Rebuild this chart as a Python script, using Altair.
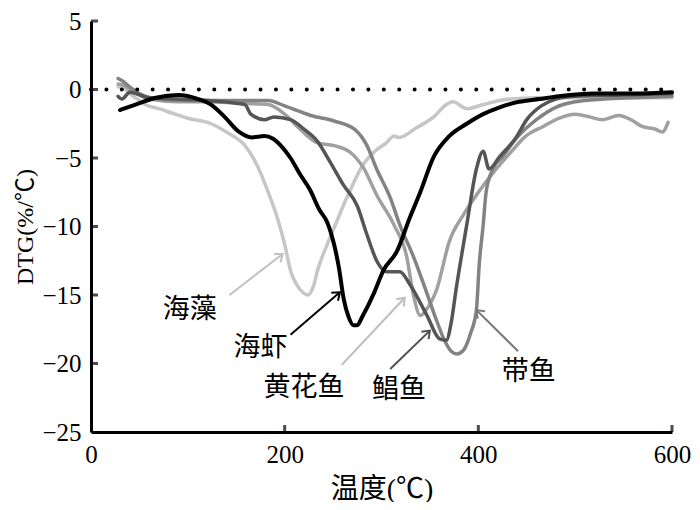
import math
import altair as alt
import pandas as pd

# ---------------- data ----------------
series_names = ["海藻", "黄花鱼", "带鱼", "鲳鱼", "海虾"]
series_colors = ["#c6c6c6", "#a0a0a0", "#838383", "#555555", "#000000"]
series_widths = [3.5, 3.5, 3.5, 3.5, 4.0]

haizao_t = [28, 34, 40, 48, 56, 70, 87, 100, 124, 142, 159, 172, 183, 193, 200, 206, 216, 224,
            230, 234, 244, 254, 261, 270, 280, 295, 305, 313, 318, 336, 354, 367, 374, 388, 405,
            422, 460, 500, 550, 600]
haizao_v = [0.2, 0.1, -0.3, -0.7, -1.1, -1.4, -1.8, -2.1, -2.5, -3.2, -4.1, -5.6, -7.5, -9.5,
            -11.3, -13.2, -14.6, -15.0, -14.3, -13.2, -11.3, -9.6, -8.4, -7.0, -5.6, -4.4, -3.9,
            -3.4, -3.5, -2.8, -2.0, -1.1, -0.9, -1.4, -1.1, -0.8, -0.6, -0.6, -0.6, -0.6]

huanghua_t = [28, 34, 40, 50, 60, 90, 120, 150, 183, 200, 216, 234, 251, 268, 282, 295, 313,
              326, 333, 340, 347, 357, 370, 385, 398, 415, 432, 449, 467, 483, 500, 515, 528,
              545, 560, 569, 583, 590, 596]
huanghua_v = [0.4, 0.3, 0.0, -0.4, -0.7, -0.9, -0.9, -1.0, -1.1, -1.8, -2.9, -3.9, -4.1, -4.6,
              -5.8, -7.7, -9.9, -12.2, -15.0, -16.5, -16.0, -14.6, -11.1, -9.1, -7.7, -6.1,
              -4.7, -3.4, -2.7, -2.1, -1.8, -2.0, -2.2, -1.9, -2.3, -2.7, -2.9, -3.1, -2.4]

daiyu_t = [28, 33, 38, 50, 70, 100, 130, 160, 183, 200, 227, 251, 272, 285, 295, 309, 319, 333,
           345, 355, 365, 372, 378, 385, 392, 398, 401, 405, 408, 415, 425, 440, 460, 480, 500,
           530, 560, 600]
daiyu_v = [0.8, 0.6, 0.3, -0.3, -0.7, -0.8, -0.8, -0.8, -0.8, -1.2, -1.9, -2.3, -2.9, -4.1,
           -5.8, -7.9, -9.9, -12.2, -14.5, -16.5, -18.3, -19.1, -19.3, -19.0, -17.8, -16.1,
           -12.7, -9.9, -7.5, -5.8, -4.9, -3.5, -2.2, -1.3, -0.9, -0.7, -0.6, -0.5]

changyu_t = [28, 32, 40, 60, 90, 120, 150, 159, 165, 179, 189, 206, 220, 234, 247, 261, 275,
             285, 295, 305, 319, 329, 347, 360, 367, 372, 377, 388, 398, 405, 411, 422, 439,
             450, 465, 480, 500, 550, 600]
changyu_v = [-0.5, -0.7, -0.2, -0.6, -0.7, -0.8, -1.0, -1.1, -1.8, -2.2, -2.0, -2.2, -2.9,
             -3.8, -5.3, -7.0, -8.5, -10.6, -12.5, -13.3, -13.3, -14.2, -16.5, -18.2, -18.3,
             -17.0, -14.6, -9.9, -5.8, -4.5, -5.8, -4.9, -3.5, -2.2, -1.2, -0.7, -0.5, -0.4, -0.3]

haixia_t = [30, 46, 67, 90, 111, 124, 138, 153, 166, 179, 188, 196, 206, 216, 226, 236, 244,
            251, 256, 261, 266, 271, 275, 280, 292, 302, 316, 329, 340, 354, 370, 388, 405,
            422, 442, 463, 483, 520, 560, 600]
haixia_v = [-1.5, -1.1, -0.6, -0.4, -0.7, -1.1, -2.0, -3.1, -3.5, -3.4, -3.6, -4.1, -5.0, -6.2,
            -7.3, -8.8, -9.7, -11.3, -13.0, -15.3, -16.6, -17.2, -17.2, -16.6, -14.9, -13.2,
            -11.8, -9.4, -7.5, -4.9, -3.4, -2.5, -1.8, -1.3, -0.9, -0.7, -0.5, -0.3, -0.3, -0.2]

series_t = [haizao_t, huanghua_t, daiyu_t, changyu_t, haixia_t]
series_v = [haizao_v, huanghua_v, daiyu_v, changyu_v, haixia_v]

# labels and arrows
label_names = ["海藻", "海虾", "黄花鱼", "鲳鱼", "带鱼"]
label_t = [102, 175, 220, 318, 452]
label_v = [-16.1, -18.9, -21.8, -21.9, -20.6]
arrow_tail_t = [143, 206, 259, 309, 441]
arrow_tail_v = [-15.0, -17.9, -20.1, -20.4, -19.1]
arrow_tip_t = [198, 257, 324, 350, 398]
arrow_tip_v = [-12.0, -14.8, -15.2, -17.6, -16.1]
arrow_colors = ["#c0c0c0", "#000000", "#bdbdbd", "#505050", "#7a7a7a"]

x_ticks = [200, 400, 600]
y_ticks = [5, 0, -5, -10, -15, -20]

# ---------------- layout ----------------
W, H = 581, 411
XMIN, XMAX, YMIN, YMAX = 0, 600, -25, 5
px_x = W / (XMAX - XMIN)
px_y = H / (YMAX - YMIN)

xs = alt.Scale(domain=[XMIN, XMAX], nice=False, zero=False)
ys = alt.Scale(domain=[YMIN, YMAX], nice=False, zero=False)

num_font = "Liberation Serif"
cjk_font = "Noto Sans CJK SC"
mix_font = "Liberation Serif, Noto Sans CJK SC"

base_x = alt.X("t:Q", scale=xs,
               axis=alt.Axis(values=[0, 200, 400, 600], title="温度(℃)", titleFontSize=28,
                             titleFont=mix_font, titleFontWeight="normal",
                             titlePadding=8, labelFlush=False, labelPadding=10))
base_y = alt.Y("v:Q", scale=ys,
               axis=alt.Axis(values=[5, 0, -5, -10, -15, -20, -25], title="DTG(%/℃)",
                             titleFontSize=24, titleFont=mix_font,
                             titleFontWeight="normal", titlePadding=4, labelFlush=False,
                             labelPadding=10))

layers = []
for name, tt, vv, col, sw in zip(series_names, series_t, series_v, series_colors, series_widths):
    df = pd.DataFrame({"t": tt, "v": vv, "name": name})
    layers.append(
        alt.Chart(df).mark_line(color=col, strokeWidth=sw, interpolate="monotone",
                                strokeJoin="round", strokeCap="round")
        .encode(x=base_x, y=base_y)
    )

# zero dotted line
zero_df = pd.DataFrame({"t": [XMIN], "t2": [XMAX], "v": [0]})
layers.append(
    alt.Chart(zero_df).mark_rule(color="black", strokeWidth=4, strokeDash=[0.01, 15.4],
                                 strokeCap="round")
    .encode(x=alt.X("t:Q", scale=xs), x2="t2:Q", y=alt.Y("v:Q", scale=ys))
)

# arrows
angles = []
for a, b, c, d in zip(arrow_tail_t, arrow_tail_v, arrow_tip_t, arrow_tip_v):
    dx = (c - a) * px_x
    dy = -(d - b) * px_y
    angles.append((math.degrees(math.atan2(dy, dx)) + 360) % 360)
arrow_df = pd.DataFrame({"t": arrow_tail_t, "v": arrow_tail_v, "t2": arrow_tip_t,
                         "v2": arrow_tip_v, "col": arrow_colors, "ang": angles})
layers.append(
    alt.Chart(arrow_df).mark_rule(strokeWidth=2)
    .encode(x=alt.X("t:Q", scale=xs), y=alt.Y("v:Q", scale=ys), x2="t2:Q", y2="v2:Q",
            color=alt.Color("col:N", scale=None))
)
layers.append(
    alt.Chart(arrow_df).mark_point(shape="M -1 -0.75 L 0 0 L -1 0.75", filled=False,
                                   strokeWidth=2, size=190, opacity=1)
    .encode(x=alt.X("t2:Q", scale=xs), y=alt.Y("v2:Q", scale=ys),
            color=alt.Color("col:N", scale=None), angle=alt.Angle("ang:Q", scale=None))
)

# labels
lab_df = pd.DataFrame({"t": label_t, "v": label_v, "name": label_names})
layers.append(
    alt.Chart(lab_df).mark_text(font=cjk_font, fontSize=27, color="black", align="center",
                                baseline="middle")
    .encode(x=alt.X("t:Q", scale=xs), y=alt.Y("v:Q", scale=ys), text="name:N")
)

# inward ticks
xt_df = pd.DataFrame({"t": x_ticks, "v": [YMIN] * len(x_ticks)})
layers.append(
    alt.Chart(xt_df).mark_tick(orient="vertical", size=7, thickness=3, yOffset=-3.5,
                               color="black")
    .encode(x=alt.X("t:Q", scale=xs), y=alt.Y("v:Q", scale=ys))
)
yt_df = pd.DataFrame({"t": [XMIN] * len(y_ticks), "v": y_ticks})
layers.append(
    alt.Chart(yt_df).mark_tick(orient="horizontal", size=7, thickness=3, xOffset=3.5,
                               color="black")
    .encode(x=alt.X("t:Q", scale=xs), y=alt.Y("v:Q", scale=ys))
)

chart = (
    alt.layer(*layers)
    .properties(width=W, height=H, autosize=alt.AutoSizeParams(type="none"),
                padding={"left": 83, "top": 13, "right": 20, "bottom": 70})
    .configure_view(stroke=None)
    .configure_axis(domainColor="black", domainWidth=3, ticks=False, grid=False,
                    labelFont=num_font, labelFontSize=25, labelColor="black",
                    titleColor="black")
)

chart.save("out.html", embed_options={"renderer": "svg", "actions": False})
